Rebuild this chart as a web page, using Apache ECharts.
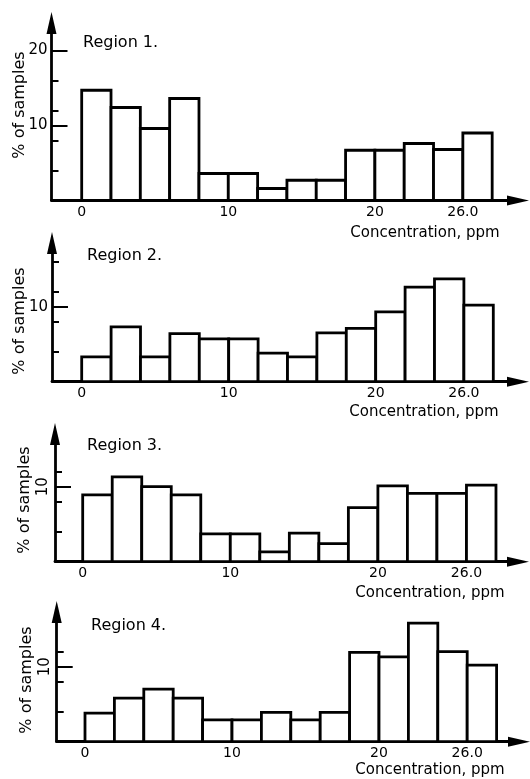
<!DOCTYPE html>
<html>
<head>
<meta charset="utf-8">
<script src="https://cdn.jsdelivr.net/npm/echarts@6/dist/echarts.min.js"></script>
<style>
  html, body { margin: 0; padding: 0; background: #fff; }
  #chart { width: 530px; height: 779px; }
</style>
</head>
<body>
<div id="chart"></div>
<script>
// Histogram bins: 2 ppm wide, 0–28 ppm
const binEdges = [0, 2, 4, 6, 8, 10, 12, 14, 16, 18, 20, 22, 24, 26, 28];

// % of samples in each bin
const region1 = [14.7, 12.4, 9.6, 13.6, 3.6, 3.6, 1.6, 2.7, 2.7, 6.7, 6.7, 7.6, 6.8, 9.0];
const region2 = [3.3, 7.3, 3.3, 6.4, 5.7, 5.7, 3.8, 3.3, 6.5, 7.1, 9.3, 12.6, 13.7, 10.2];
const region3 = [8.9, 11.3, 10.0, 8.9, 3.7, 3.7, 1.3, 3.8, 2.4, 7.2, 10.1, 9.1, 9.1, 10.2];
const region4 = [3.8, 5.8, 7.0, 5.8, 2.9, 2.9, 3.9, 2.9, 3.9, 11.9, 11.3, 15.8, 12.0, 10.2];

const regionNames = ['Region 1.', 'Region 2.', 'Region 3.', 'Region 4.'];
const xTickValues = [0, 10, 20, 26];
const yMinorTicks = [[4, 8, 12, 16], [4, 8, 12, 16], [4, 8, 12], [4, 8, 12]];
const yMajorTicks = [[10, 20], [10], [10], [10]];
const xAxisTitle = 'Concentration, ppm';
const yAxisTitle = '% of samples';

const regions = [region1, region2, region3, region4];

const FONT = 'DejaVu Sans';
const INK = '#000';
const PX_PER_PCT = 7.5;
const ARROW = [10, 22];
const LINE_W = 2.8;

// pixel geometry of each panel
const layout = [
  { axisX: 51.5, zeroX: 81.7, sx: 14.66, base: 200.5, tipY: 12,  tipX: 529, rotY: false, titleX: 83, titleY: 45,  nameX: 425, nameY: 233, ylabX: 20, ylabY: 105 },
  { axisX: 52,   zeroX: 81.7, sx: 14.70, base: 381.7, tipY: 232, tipX: 529, rotY: false, titleX: 87, titleY: 258, nameX: 424, nameY: 412, ylabX: 20, ylabY: 321 },
  { axisX: 55,   zeroX: 82.7, sx: 14.76, base: 561.7, tipY: 423, tipX: 529, rotY: true,  titleX: 87, titleY: 448, nameX: 430, nameY: 593, ylabX: 25, ylabY: 500 },
  { axisX: 56.7, zeroX: 85,   sx: 14.70, base: 741.7, tipY: 601, tipX: 530, rotY: true,  titleX: 91, titleY: 628, nameX: 430, nameY: 770, ylabX: 27, ylabY: 680 }
];

const grids = [], xAxes = [], yAxes = [], series = [], graphics = [];

layout.forEach((L, i) => {
  const top = L.tipY + ARROW[1] / 2;
  const right = L.tipX - ARROW[1] / 2;
  const box = { left: L.axisX, top: top, width: right - L.axisX, height: L.base - top };
  const xMin = (L.axisX - L.zeroX) / L.sx;
  const xMax = (right - L.zeroX) / L.sx;
  const yMax = (L.base - top) / PX_PER_PCT;

  // main grid: axes with arrows, minor ticks, bars
  grids.push(Object.assign({}, box));
  // overlay grid: long ticks and labels on the y axis
  grids.push(Object.assign({}, box));

  xAxes.push({
    gridIndex: 2 * i, type: 'value', min: xMin, max: xMax,
    axisLine: { show: true, onZero: false, symbol: ['none', 'triangle'], symbolSize: ARROW,
                lineStyle: { color: INK, width: LINE_W } },
    axisTick: { show: false },
    splitLine: { show: false },
    axisLabel: { customValues: xTickValues, margin: 5, color: INK, fontFamily: FONT, fontSize: 14,
                 formatter: v => (v === 26 ? '26.0' : String(v)) }
  });
  xAxes.push({
    gridIndex: 2 * i + 1, type: 'value', min: xMin, max: xMax, show: false
  });

  yAxes.push({
    gridIndex: 2 * i, type: 'value', min: 0, max: yMax,
    axisLine: { show: true, onZero: false, symbol: ['none', 'triangle'], symbolSize: ARROW,
                lineStyle: { color: INK, width: LINE_W } },
    axisTick: { show: true, inside: true, length: 7, customValues: yMinorTicks[i],
                lineStyle: { color: INK, width: 2 } },
    axisLabel: { show: false },
    splitLine: { show: false }
  });
  yAxes.push({
    gridIndex: 2 * i + 1, type: 'value', min: 0, max: yMax,
    axisLine: { show: false, onZero: false },
    axisTick: { show: true, inside: true, length: 16, customValues: yMajorTicks[i],
                lineStyle: { color: INK, width: 2 } },
    axisLabel: { show: true, customValues: yMajorTicks[i], margin: 4, color: INK,
                 fontFamily: FONT, fontSize: 15, rotate: L.rotY ? 90 : 0 },
    splitLine: { show: false }
  });

  series.push({
    type: 'custom',
    name: regionNames[i],
    xAxisIndex: 2 * i, yAxisIndex: 2 * i,
    data: regions[i].map((v, k) => [binEdges[k], binEdges[k + 1], v]),
    encode: { x: [0, 1], y: 2 },
    renderItem: (params, api) => {
      const p0 = api.coord([api.value(0), api.value(2)]);
      const p1 = api.coord([api.value(1), 0]);
      return {
        type: 'rect',
        shape: { x: p0[0], y: p0[1], width: p1[0] - p0[0], height: p1[1] - p0[1] },
        style: { fill: '#fff', stroke: INK, lineWidth: LINE_W }
      };
    },
    silent: true
  });

  graphics.push({
    type: 'text', left: L.titleX, top: L.titleY - 10,
    style: { text: regionNames[i], fill: INK, font: '16px "' + FONT + '"' }
  });
  graphics.push({
    type: 'text', x: L.nameX, y: L.nameY,
    style: { text: xAxisTitle, fill: INK, font: '15px "' + FONT + '"', align: 'center', verticalAlign: 'middle' }
  });
  graphics.push({
    type: 'text', x: L.ylabX, y: L.ylabY, rotation: Math.PI / 2,
    style: { text: yAxisTitle, fill: INK, font: '16px "' + FONT + '"', align: 'center', verticalAlign: 'middle' }
  });
});

const chart = echarts.init(document.getElementById('chart'), null, { renderer: 'canvas' });
chart.setOption({
  animation: false,
  backgroundColor: '#fff',
  grid: grids,
  xAxis: xAxes,
  yAxis: yAxes,
  series: series,
  graphic: graphics
});
</script>
</body>
</html>
